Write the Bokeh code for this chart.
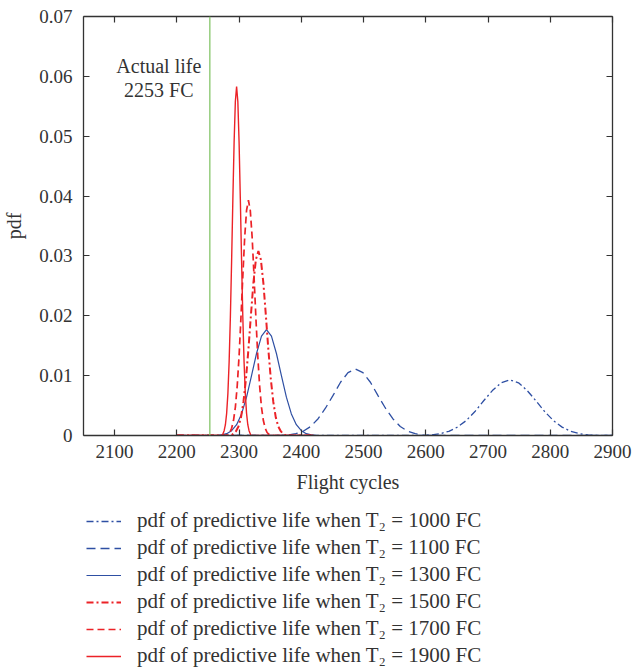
from bokeh.plotting import figure
from bokeh.layouts import column
from bokeh.models import Range1d, LinearAxis, FixedTicker, Span, Legend, LegendItem
from bokeh.core.properties import value
from bokeh.embed import file_html
from bokeh.resources import INLINE

# ---------------- data ----------------
x_ticks = [2100, 2200, 2300, 2400, 2500, 2600, 2700, 2800, 2900]
y_ticks = [0, 0.01, 0.02, 0.03, 0.04, 0.05, 0.06, 0.07]
y_tick_labels = ["0", "0.01", "0.02", "0.03", "0.04", "0.05", "0.06", "0.07"]
actual_life = 2253
annot_lines = ["Actual life", "2253 FC"]
annot_x = [2171, 2171]
annot_y = [0.0618, 0.0578]

# T2 = 1000 FC (blue dash-dot)
x_1000 = [2200, 2595, 2609, 2623, 2637, 2651, 2665, 2679, 2693, 2707, 2721, 2735,
          2749, 2763, 2777, 2791, 2805, 2819, 2833, 2847, 2861, 2875, 2900]
y_1000 = [0, 0, 0.0001, 0.0003, 0.0007, 0.0014, 0.0025, 0.0040, 0.0058, 0.0075, 0.0088, 0.0093,
          0.0088, 0.0075, 0.0058, 0.0040, 0.0025, 0.0014, 0.0007, 0.0003, 0.0001, 0, 0]
# T2 = 1100 FC (blue dashed)
x_1100 = [2200, 2367, 2379, 2391, 2403, 2415, 2427, 2439, 2451, 2463, 2475, 2487,
          2499, 2511, 2523, 2535, 2547, 2559, 2571, 2583, 2595, 2607, 2900]
y_1100 = [0, 0, 0.0001, 0.0003, 0.0007, 0.0015, 0.0028, 0.0046, 0.0067, 0.0089, 0.0105, 0.0111,
          0.0105, 0.0089, 0.0067, 0.0046, 0.0028, 0.0015, 0.0007, 0.0003, 0.0001, 0, 0]
# T2 = 1300 FC (blue solid)
x_1300 = [2200, 2264, 2272, 2280, 2288, 2296, 2304, 2312, 2320, 2328, 2336, 2344,
          2352, 2360, 2368, 2376, 2384, 2392, 2400, 2408, 2416, 2424, 2900]
y_1300 = [0, 0, 0.0001, 0.0003, 0.0008, 0.0018, 0.0036, 0.0064, 0.0100, 0.0137, 0.0166, 0.0177,
          0.0166, 0.0137, 0.0100, 0.0064, 0.0036, 0.0018, 0.0008, 0.0003, 0.0001, 0, 0]
# T2 = 1500 FC (red dash-dot)
x_1500 = [2200, 2287, 2291, 2295, 2299, 2303, 2307, 2311, 2315, 2319, 2323, 2327, 2331,
          2335, 2339, 2343, 2347, 2351, 2355, 2359, 2363, 2367, 2371, 2375, 2420]
y_1500 = [0, 0, 0.0003, 0.0007, 0.0015, 0.0030, 0.0056, 0.0094, 0.0144, 0.0201, 0.0255, 0.0294, 0.0308,
          0.0294, 0.0255, 0.0201, 0.0144, 0.0094, 0.0056, 0.0030, 0.0015, 0.0007, 0.0003, 0, 0]
# T2 = 1700 FC (red dashed)
x_1700 = [2200, 2279, 2282, 2285, 2288, 2291, 2294, 2297, 2300, 2303, 2306, 2309, 2312, 2315,
          2318, 2321, 2324, 2327, 2330, 2333, 2336, 2339, 2342, 2345, 2348, 2351, 2420]
y_1700 = [0, 0, 0.0002, 0.0005, 0.0012, 0.0025, 0.0047, 0.0083, 0.0133, 0.0197, 0.0266, 0.0331, 0.0376, 0.0393,
          0.0376, 0.0331, 0.0266, 0.0197, 0.0133, 0.0083, 0.0047, 0.0025, 0.0012, 0.0005, 0.0002, 0, 0]
# T2 = 1900 FC (red solid)
x_1900 = [2200, 2273, 2276, 2278, 2280, 2282, 2284, 2286, 2288, 2290, 2292, 2294, 2296,
          2298, 2300, 2302, 2304, 2306, 2308, 2310, 2312, 2314, 2316, 2319, 2420]
y_1900 = [0, 0, 0.0008, 0.0018, 0.0037, 0.0070, 0.0123, 0.0198, 0.0292, 0.0395, 0.0490, 0.0558, 0.0583,
          0.0558, 0.0490, 0.0395, 0.0292, 0.0198, 0.0123, 0.0070, 0.0037, 0.0018, 0.0008, 0, 0]

labels = ["pdf of predictive life when T\u2082 = 1000 FC",
          "pdf of predictive life when T\u2082 = 1100 FC",
          "pdf of predictive life when T\u2082 = 1300 FC",
          "pdf of predictive life when T\u2082 = 1500 FC",
          "pdf of predictive life when T\u2082 = 1700 FC",
          "pdf of predictive life when T\u2082 = 1900 FC"]

# ---------------- styling ----------------
FONT = "Liberation Serif"
FS = "20px"
TICK_FS = "19px"
LEG_FS = "21px"
BLUE = "#2e4fa3"
RED = "#ec2227"
GREEN = "#86c66a"
AX = "#333333"

styles = [
    dict(line_color=BLUE, line_width=1.3, line_dash="7 3 2 3"),
    dict(line_color=BLUE, line_width=1.3, line_dash="9 5"),
    dict(line_color=BLUE, line_width=1.2),
    dict(line_color=RED, line_width=2.0, line_dash="7 3 2 3"),
    dict(line_color=RED, line_width=1.7, line_dash="7 4"),
    dict(line_color=RED, line_width=1.4),
]
series = [(x_1000, y_1000), (x_1100, y_1100), (x_1300, y_1300),
          (x_1500, y_1500), (x_1700, y_1700), (x_1900, y_1900)]

# ---------------- main chart ----------------
p = figure(frame_width=529, frame_height=419, output_backend="svg", toolbar_location=None,
           x_range=Range1d(2050, 2900), y_range=Range1d(0, 0.07),
           min_border_left=83, min_border_right=20, min_border_top=16, min_border_bottom=65)
p.background_fill_color = "white"
p.border_fill_color = "white"
p.outline_line_color = None
p.grid.visible = False

for ax in [p.xaxis[0], p.yaxis[0]]:
    ax.axis_line_color = AX
    ax.axis_line_width = 1.3
    ax.major_tick_line_color = AX
    ax.major_tick_line_width = 1.2
    ax.major_tick_in = 6
    ax.major_tick_out = 0
    ax.minor_tick_line_color = None
    ax.major_label_text_font = FONT
    ax.major_label_text_font_size = TICK_FS
    ax.major_label_text_color = AX
    ax.axis_label_text_font = FONT
    ax.axis_label_text_font_size = FS
    ax.axis_label_text_font_style = "normal"
    ax.axis_label_text_color = AX

p.xaxis[0].ticker = FixedTicker(ticks=x_ticks)
p.yaxis[0].ticker = FixedTicker(ticks=y_ticks)
p.yaxis[0].major_label_overrides = {t: l for t, l in zip(y_ticks, y_tick_labels)}
p.xaxis[0].axis_label = "Flight cycles"
p.yaxis[0].axis_label = "pdf"
p.xaxis[0].major_label_standoff = 9
p.yaxis[0].major_label_standoff = 11
p.xaxis[0].axis_label_standoff = 10
p.yaxis[0].axis_label_standoff = 11

top = LinearAxis(ticker=FixedTicker(ticks=x_ticks))
right = LinearAxis(ticker=FixedTicker(ticks=y_ticks))
for ax in [top, right]:
    ax.axis_line_color = AX
    ax.axis_line_width = 1.3
    ax.major_tick_line_color = AX
    ax.major_tick_line_width = 1.2
    ax.major_tick_in = 6
    ax.major_tick_out = 0
    ax.minor_tick_line_color = None
    ax.major_label_text_color = None
    ax.major_label_text_font_size = "1px"
    ax.major_label_standoff = 0
p.add_layout(top, "above")
p.add_layout(right, "right")

for (xs, ys), st in zip(series, styles):
    p.line(xs, ys, **st)

p.add_layout(Span(location=actual_life, dimension="height", line_color=GREEN, line_width=1.3))

p.text(x=annot_x, y=annot_y, text=annot_lines, text_font=value(FONT), text_font_size=FS,
       text_color=AX, text_align="center", text_baseline="middle")

# ---------------- legend panel below ----------------
q = figure(width=632, height=171, output_backend="svg", toolbar_location=None,
           x_range=Range1d(0, 1), y_range=Range1d(0, 1),
           min_border=0, x_axis_type=None, y_axis_type=None)
q.outline_line_color = None
q.grid.visible = False
q.background_fill_color = "white"
q.border_fill_color = "white"
rs = [q.line(xs, ys, **st) for (xs, ys), st in zip(series, styles)]  # lie outside the view

legend = Legend(items=[LegendItem(label=l, renderers=[r]) for l, r in zip(labels, rs)],
                location=(3, 3), orientation="vertical")
legend.border_line_color = None
legend.background_fill_alpha = 0
legend.label_text_font = FONT
legend.label_text_font_size = LEG_FS
legend.label_text_color = AX
legend.glyph_width = 35
legend.glyph_height = 20
legend.label_height = 20
legend.label_standoff = 16
legend.spacing = 2
legend.padding = 2
legend.margin = 0
q.add_layout(legend, "center")

open("out.html", "w").write(file_html(column(p, q, spacing=0), INLINE))
